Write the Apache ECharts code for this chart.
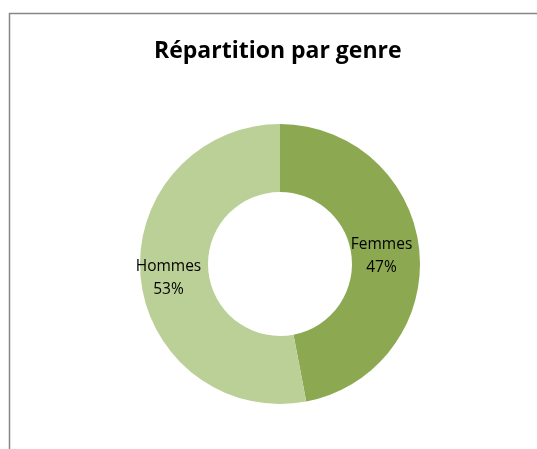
<!DOCTYPE html>
<html><head><meta charset="utf-8">
<script src="https://cdn.jsdelivr.net/npm/echarts@6/dist/echarts.min.js"></script>
<style>html,body{margin:0;padding:0;background:#fff}#c{width:537px;height:449px}</style>
</head><body><div id="c"></div>
<script>
const titleText = 'Répartition par genre';
const categories = ['Femmes', 'Hommes'];
const values = [47, 53];
const colors = ['#8CA850', '#BBD097'];

const chart = echarts.init(document.getElementById('c'), null, {renderer: 'canvas'});
chart.setOption({
  animation: false,
  title: {
    text: titleText, left: 154, top: 40, padding: 0,
    textStyle: {fontFamily: 'Open Sans', fontWeight: 'bold', fontSize: 23, color: '#000'}
  },
  graphic: [
    {type: 'polyline', shape: {points: [[9.5, 449], [9.5, 13.5], [537, 13.5]]},
     style: {stroke: '#878787', lineWidth: 1.5, fill: null}, silent: true}
  ],
  series: [{
    type: 'pie',
    center: [280, 264],
    radius: [72, 140],
    startAngle: 90,
    clockwise: true,
    silent: true,
    label: {
      show: true, position: 'inside',
      formatter: p => p.name + '\n' + p.value + '%',
      fontFamily: 'Open Sans', fontSize: 15.5, color: '#000', lineHeight: 23
    },
    labelLayout: function (p) {
      return p.dataIndex === 0 ? {dx: -7, dy: 2} : {dx: -3, dy: 4};
    },
    labelLine: {show: false},
    data: categories.map((c, i) => ({name: c, value: values[i], itemStyle: {color: colors[i]}}))
  }]
});
</script></body></html>
